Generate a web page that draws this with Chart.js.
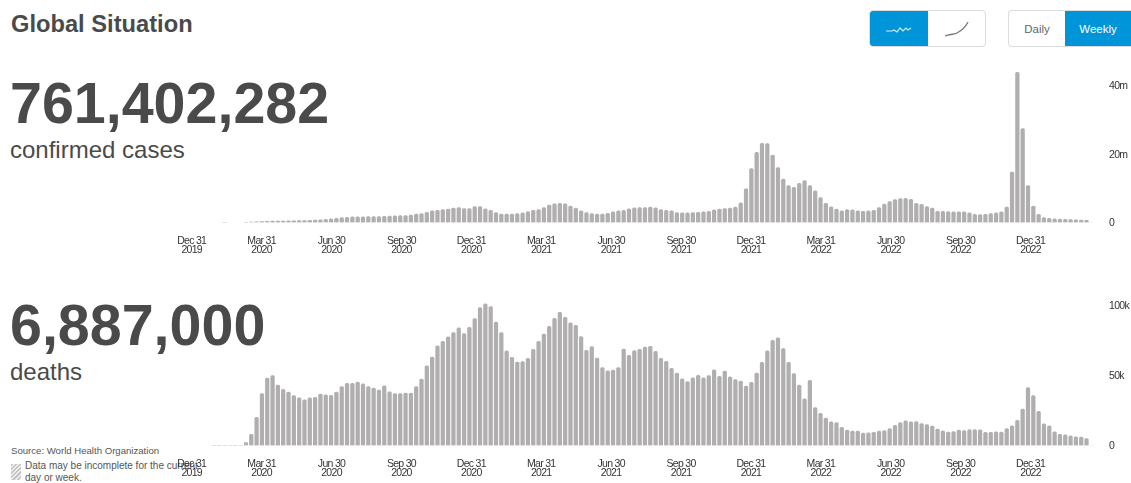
<!DOCTYPE html>
<html>
<head>
<meta charset="utf-8">
<title>Global Situation</title>
<script src="https://cdn.jsdelivr.net/npm/chart.js@4"></script>
<style>
html, body { margin: 0; padding: 0; background: #fff; }
body { width: 1131px; height: 483px; position: relative; overflow: hidden; color: #4a4a4a; font-family: "Liberation Sans", sans-serif; }
.abs { position: absolute; white-space: nowrap; }
#title { left: 11px; top: 9px; font-size: 23.7px; font-weight: 700; line-height: 30px; }
.big { left: 10px; font-size: 57.4px; font-weight: 700; line-height: 70px; }
.sub { left: 10px; font-size: 24px; line-height: 30px; }
canvas { position: absolute; }
.toggle { position: absolute; top: 10px; height: 37px; box-sizing: border-box; border: 1px solid #dcdcdc; border-radius: 4px; display: flex; overflow: hidden; font: 11.5px "Liberation Sans", sans-serif; color: #666; background: #fff; }
.toggle div { display: flex; align-items: center; justify-content: center; }
.on { background: #0095d9; color: #fff; }
#note { left: 11px; top: 445px; font: 9.6px/12px "Liberation Sans", sans-serif; color: #555; }
#hatch { left: 11px; top: 464px; width: 10px; height: 16px; background: repeating-linear-gradient(135deg, #c4c4c4 0 1.5px, #eee 1.5px 3px); }
#inc { left: 25px; top: 460px; font: 10px/12px "Liberation Sans", sans-serif; color: #555; white-space: normal; width: 175px; }
</style>
</head>
<body>
<div class="abs" id="title">Global Situation</div>
<div class="abs big" style="top:68px">761,402,282</div>
<div class="abs sub" style="top:135px">confirmed cases</div>
<div class="abs big" style="top:290px">6,887,000</div>
<div class="abs sub" style="top:357px">deaths</div>

<div class="toggle" style="left:869px;width:117px">
  <div class="on" style="width:58px"><svg width="28" height="10"><path d="M1 7h6l2-1 3 2 3-4 3 3 3-3 2 2 3-2" fill="none" stroke="#cfeaf7" stroke-width="1.2"/></svg></div>
  <div style="width:57px"><svg width="28" height="20"><path d="M2 17c4-2 8-1 12-3s8-5 11-11" fill="none" stroke="#777" stroke-width="1.3"/></svg></div>
</div>
<div class="toggle" style="left:1008px;width:123px;border-right:0;border-radius:4px 0 0 4px">
  <div style="width:56px">Daily</div>
  <div class="on" style="width:66px">Weekly</div>
</div>

<div class="abs" id="note">Source: World Health Organization</div>
<div class="abs" id="hatch"></div>
<div class="abs" id="inc">Data may be incomplete for the current day or week.</div>

<canvas id="casesChart" style="left:170px;top:60px"></canvas>
<canvas id="deathsChart" style="left:170px;top:290px"></canvas>

<script>
// quarter labels, these run on their own axis
var tickLabels = [
  ["Dec 31","2019"],["Mar 31","2020"],["Jun 30","2020"],["Sep 30","2020"],["Dec 31","2020"],
  ["Mar 31","2021"],["Jun 30","2021"],["Sep 30","2021"],["Dec 31","2021"],["Mar 31","2022"],
  ["Jun 30","2022"],["Sep 30","2022"],["Dec 31","2022"]
];

// weekly values, millions
var cases = [
  null,null,null,null,null,null,0.02,null,null,null,0.02,0.1,0.2,0.3,0.35,0.4,0.4,0.45,0.5,0.5,
  0.55,0.55,0.6,0.7,0.8,0.9,1.05,1.25,1.45,1.55,1.65,1.65,1.65,1.7,1.7,1.75,1.8,1.9,1.95,2.0,
  2.05,2.2,2.45,2.65,3.0,3.4,3.6,3.8,3.9,4.2,4.4,4.1,4.1,4.7,4.7,4.0,3.6,2.9,2.5,2.45,
  2.5,2.65,2.8,3.2,3.6,3.8,4.4,5.1,5.5,5.6,5.5,4.8,4.2,3.4,2.9,2.65,2.5,2.5,2.7,3.1,
  3.4,3.6,4.0,4.3,4.4,4.4,4.5,4.3,3.8,3.6,3.4,2.9,2.8,2.8,2.9,3.0,3.1,3.3,3.7,3.9,
  4.1,4.2,4.5,5.75,9.9,15.8,20.6,23.2,23.1,19.8,16.1,12.7,10.8,10.3,11.5,12.3,10.8,9.3,7.3,5.65,
  4.6,3.9,3.4,3.8,3.7,3.4,3.3,3.4,3.6,4.4,5.4,6.1,6.7,7.0,7.1,6.8,5.65,5.3,4.7,4.2,
  3.3,3.3,3.2,3.1,3.1,3.1,2.8,2.4,2.3,2.4,2.6,2.8,3.1,4.5,14.8,44,27.5,10.8,4.8,2.4,
  1.45,1.25,1.05,1.0,0.9,0.85,0.8,0.7,0.6,0.05
];

// weekly values, thousands
var deaths = [
  null,null,null,null,0.1,0.1,0.2,0.2,0.1,0.1,2,8,20,37,48,49.8,43,40,38,35.5,
  34,32.5,34,34.3,36.7,36.2,35.7,38,42,44.3,44.3,45.2,44,42,41,39.5,42.6,38.3,37,37,
  37.4,37.4,42,47.4,56.7,63,71,74.3,77.4,80.5,83.8,79.8,84.3,90.5,98.3,101,99,88,80.5,67.4,
  62.9,59.5,59.8,62.1,68.6,74.3,79.5,85,90.7,95,91.4,87.4,85.7,77.6,67.9,70.5,62.4,55.5,53.3,53.8,
  55.5,68.8,64.3,67.6,68.6,70.2,70.7,67.1,62.1,60,55,51.7,47.6,45.5,48.3,50,48.3,49.8,54,49.3,
  53,49,47,46,42.4,45,51.7,59.3,67.4,75,76.7,69,59.3,51.2,43,33.3,46.4,27,23,19.5,
  16.9,16.4,12.9,11,10.2,10.2,8.8,9,9.3,10.2,10.7,12.1,14.3,16.4,17.6,16.9,17.1,15.7,15,13.8,
  11.7,10.5,9.5,10,11,10.7,11.4,11.4,11.2,9.3,9.3,9.8,9.5,12.1,14,17.9,26,41.2,35.5,24.3,
  15.5,14,9.8,8,7.6,6.9,6.2,6,5,0.2
];

var casesTicks = [0, 20, 40];
var deathsTicks = [0, 50, 100];

var weeks = cases.map(function(v, i){ return i; });

// x labels sit a bit wider than the bars in the original, so the slots get their own range
var slotMin = -0.023;
var slotMax = 12.915;

var tightText = {
  id: "tightText",
  beforeDraw: function(chart){ chart.ctx.letterSpacing = "-0.7px"; }
};

function makeChart(id, values, ticks, unit, ymax, plotHeight, topPad, canvasHeight){
  var el = document.getElementById(id);
  el.style.width = "961px";
  el.style.height = canvasHeight + "px";
  el.width = 961;
  el.height = canvasHeight;
  return new Chart(el.getContext("2d"), {
    type: "bar",
    plugins: [tightText],
    data: {
      labels: weeks,
      datasets: [{
        data: values,
        xAxisID: "x",
        yAxisID: "y",
        backgroundColor: function(ctx){ return ctx.dataIndex == values.length - 1 ? "#dddddd" : "#b0aeae"; },
        barThickness: 3.6,
        borderRadius: { topLeft: 1.5, topRight: 1.5 },
        borderSkipped: "bottom"
      }]
    },
    options: {
      responsive: false,
      animation: false,
      devicePixelRatio: 1,
      layout: { padding: { left: 20.1, right: 0, top: topPad, bottom: 0 } },
      plugins: { legend: { display: false }, tooltip: { enabled: false } },
      scales: {
        x: { display: false },
        xLabels: {
          type: "linear",
          position: "bottom",
          offset: false,
          min: slotMin, max: slotMax,
          grid: { display: false, drawTicks: false },
          border: { display: false },
          afterBuildTicks: function(s){ s.ticks = tickLabels.map(function(t, i){ return { value: i }; }); },
          afterFit: function(s){ s.paddingLeft = 0; s.paddingRight = 0; s.height = canvasHeight - topPad - plotHeight; },
          ticks: {
            autoSkip: false, maxRotation: 0, minRotation: 0, padding: 14.5,
            color: "#333", font: { family: "Liberation Sans", size: 10.5, lineHeight: 0.86 },
            callback: function(v){ return tickLabels[v]; }
          }
        },
        y: {
          position: "right",
          min: 0, max: ymax,
          grid: { display: false, drawTicks: false },
          border: { display: false },
          afterBuildTicks: function(s){ s.ticks = ticks.map(function(t){ return { value: t }; }); },
          afterFit: function(s){ s.width = 36.5; s.paddingTop = 0; s.paddingBottom = 0; },
          ticks: {
            padding: 14.5, crossAlign: "near", color: "#333", labelOffset: 0.5,
            font: { family: "Liberation Sans", size: 10.5 },
            callback: function(v){ return v == 0 ? "0" : v + unit; }
          }
        }
      }
    }
  });
}

document.fonts.ready.then(function(){
  // canvas tops are 60 and 290, zero lines at y=222.5 and y=445.5
  makeChart("casesChart", cases, casesTicks, "m", 45, 153.5, 9, 200);
  makeChart("deathsChart", deaths, deathsTicks, "k", 103, 144.5, 11, 193);
});
</script>
</body>
</html>
